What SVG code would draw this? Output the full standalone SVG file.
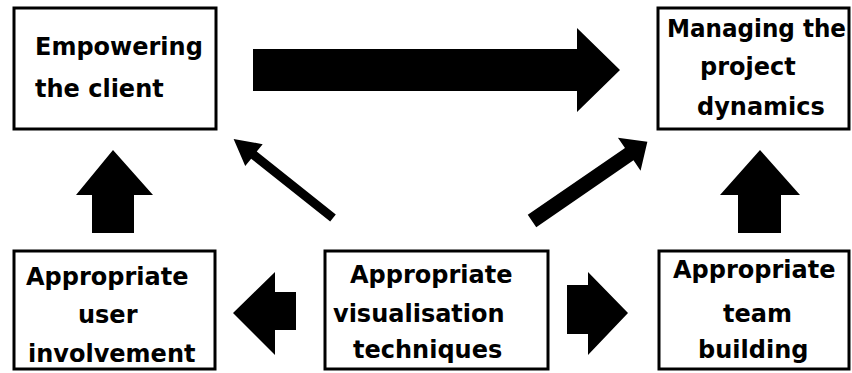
<svg xmlns="http://www.w3.org/2000/svg" width="852" height="373" viewBox="0 0 852 373">
<style>
.box{fill:#fff;stroke:#000;stroke-width:3}
.t{font-family:"DejaVu Sans",sans-serif;font-weight:bold;font-size:24px;fill:#000}
.arr{fill:#000}
</style>
<rect width="852" height="373" fill="#fff"/>
<g id="connectors">
<polygon class="arr" points="253,49 577,49 577,28 620,70 577,112 577,91 253,91"/>
<polygon class="arr" points="92,233 92,195 76,195 113,150 153,195 134,195 134,233"/>
<polygon class="arr" points="738,233 738,195 720,195 760,150 800,195 781,195 781,233"/>
<polygon class="arr" points="296,292 275,292 275,272 233,313 275,355 275,330 296,330"/>
<polygon class="arr" points="567,285 588,285 588,272 628,313 588,355 588,334 567,334"/>
<polygon class="arr" transform="translate(333,218) rotate(218.5)" points="0,-4.5 101,-4.5 101,-14 127,0 101,14 101,4.5 0,4.5"/>
<polygon class="arr" transform="translate(532,221) rotate(-34.5)" points="0,-7.5 118,-7.5 118,-20 140,0 118,20 118,7.5 0,7.5"/>
</g>
<g id="empowering">
<rect class="box" x="14" y="8" width="202" height="121"/>
<text class="t" x="35" y="55">Empowering</text>
<text class="t" x="35" y="97">the client</text>
</g>
<g id="managing">
<rect class="box" x="658" y="8" width="191" height="121"/>
<text class="t" x="667" y="37" textLength="179" lengthAdjust="spacingAndGlyphs">Managing the</text>
<text class="t" x="700" y="75">project</text>
<text class="t" x="697" y="115">dynamics</text>
</g>
<g id="user">
<rect class="box" x="14" y="251" width="201" height="118"/>
<text class="t" x="26" y="285">Appropriate</text>
<text class="t" x="78" y="323">user</text>
<text class="t" x="28" y="362">involvement</text>
</g>
<g id="visualisation">
<rect class="box" x="325" y="251" width="223" height="118"/>
<text class="t" x="350" y="283">Appropriate</text>
<text class="t" x="333" y="322">visualisation</text>
<text class="t" x="353" y="358">techniques</text>
</g>
<g id="team">
<rect class="box" x="659" y="251" width="190" height="118"/>
<text class="t" x="673" y="278">Appropriate</text>
<text class="t" x="723" y="322">team</text>
<text class="t" x="698" y="358">building</text>
</g>
</svg>
